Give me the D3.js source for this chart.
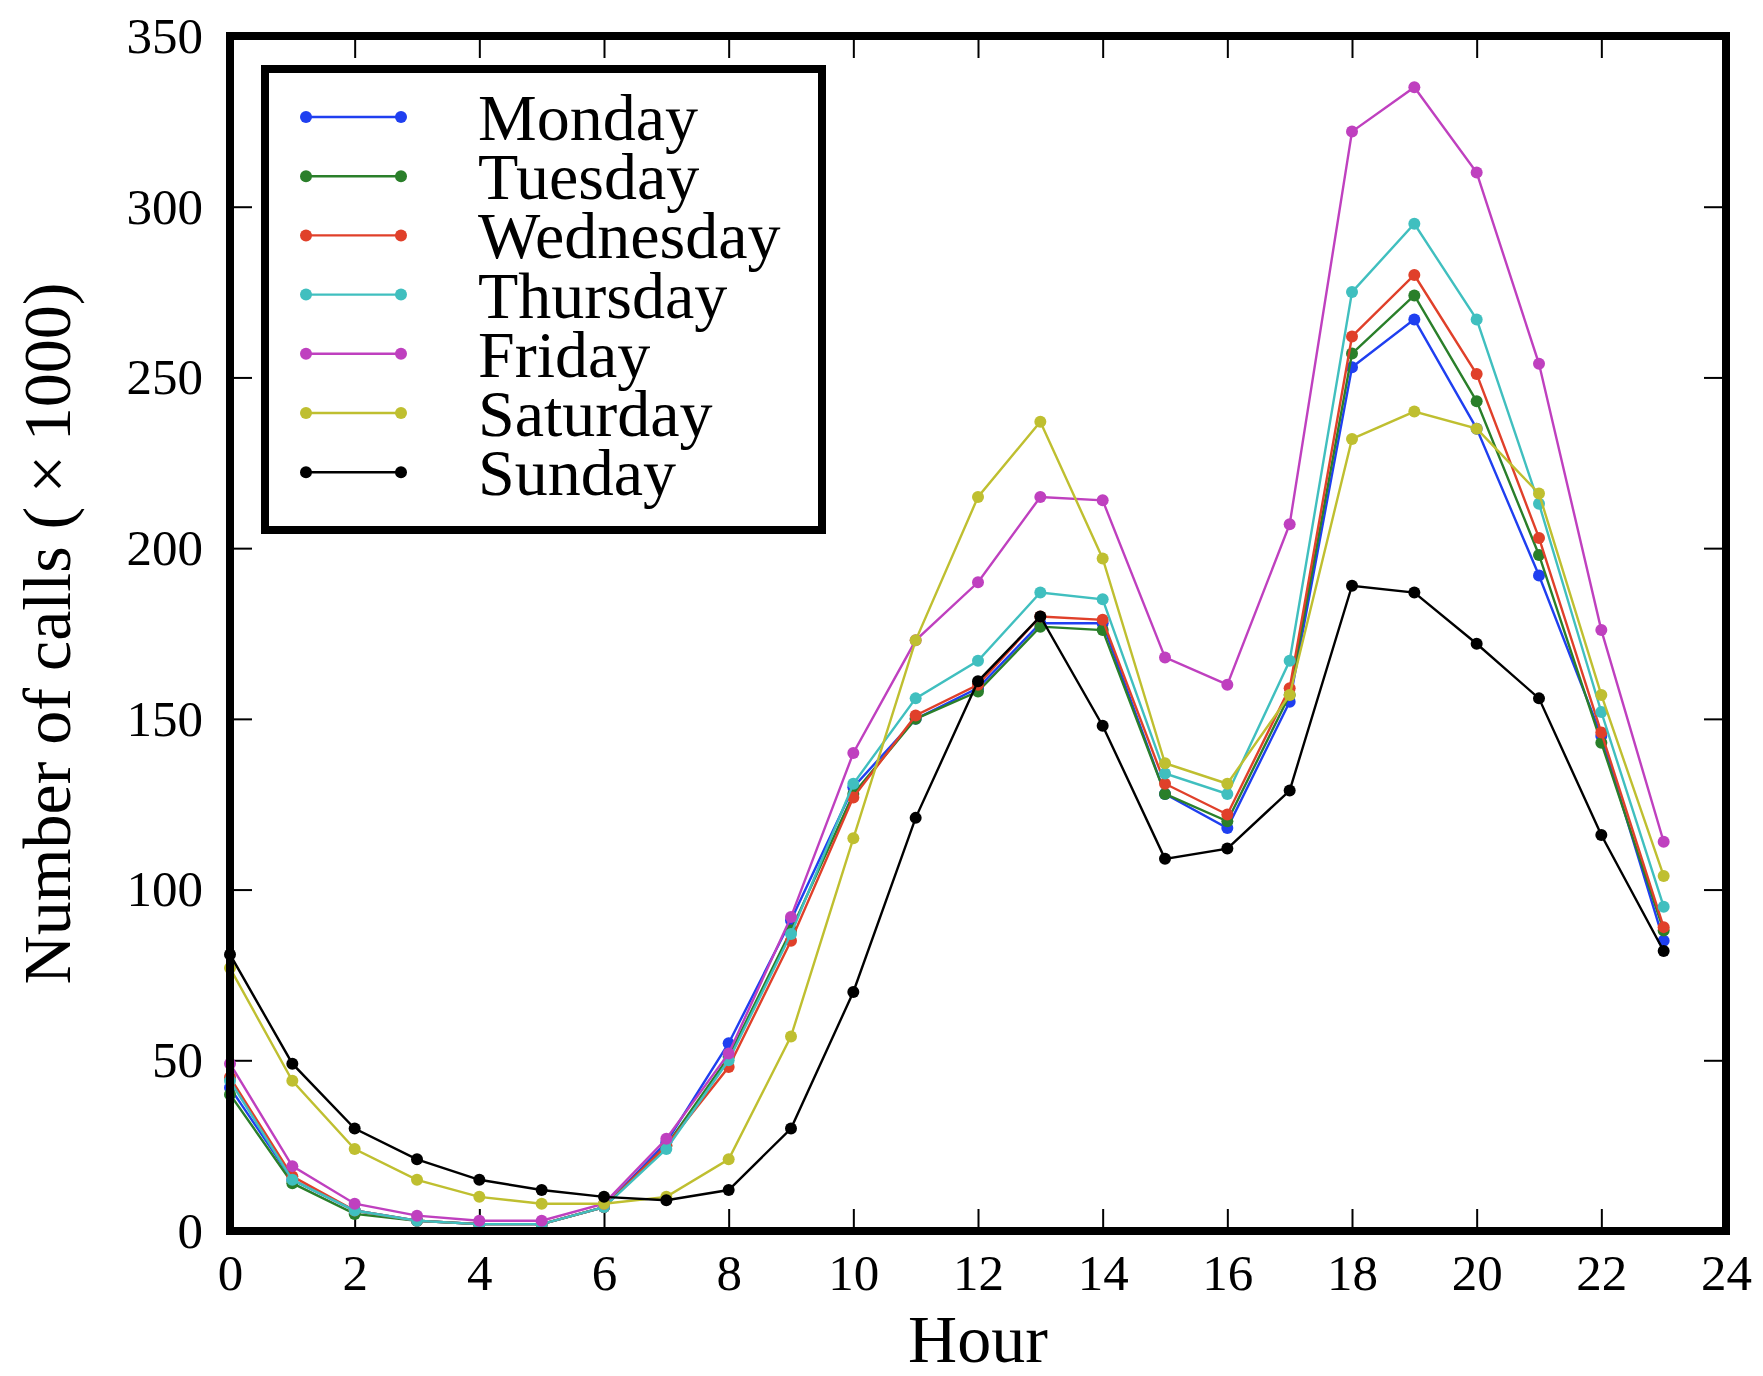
<!DOCTYPE html>
<html>
<head>
<meta charset="utf-8">
<script src="https://cdn.jsdelivr.net/npm/d3@7"></script>
<style>
  body { margin: 0; background: #fff; }
  svg { display: block; font-family: "Liberation Serif", "DejaVu Serif", serif; }
</style>
</head>
<body>
<svg id="chart" width="1763" height="1376"></svg>
<script>

// hours of the day
var hours = d3.range(0, 24);

// calls per hour (x1000)
var monday    = [42, 15, 6, 3, 2, 2, 7, 26, 55, 91, 130, 150, 159, 178, 178, 128, 118, 155, 253, 267, 235, 192, 145, 85];
var tuesday   = [40, 14, 5, 3, 2, 2, 7, 25, 51, 88, 128, 150, 158, 177, 176, 128, 120, 157, 257, 274, 243, 198, 143, 88];
var wednesday = [45, 16, 6, 3, 2, 2, 7, 25, 48, 85, 127, 151, 160, 180, 179, 131, 122, 159, 262, 280, 251, 203, 146, 89];
var thursday  = [44, 15, 6, 3, 2, 2, 7, 24, 50, 87, 131, 156, 167, 187, 185, 134, 128, 167, 275, 295, 267, 213, 152, 95];
var friday    = [49, 19, 8, 4.5, 3, 3, 8, 27, 52, 92, 140, 173, 190, 215, 214, 168, 160, 207, 322, 335, 310, 254, 176, 114];
var saturday  = [77, 44, 24, 15, 10, 8, 8, 10, 21, 57, 115, 173, 215, 237, 197, 137, 131, 157, 232, 240, 235, 216, 157, 104];
var sunday    = [81, 49, 30, 21, 15, 12, 10, 9, 12, 30, 70, 121, 161, 180, 148, 109, 112, 129, 189, 187, 172, 156, 116, 82];

var dayNames  = ["Monday", "Tuesday", "Wednesday", "Thursday", "Friday", "Saturday", "Sunday"];
var dayValues = [monday, tuesday, wednesday, thursday, friday, saturday, sunday];
var dayColors = ["#1f3ff0", "#2a7f2a", "#e0402a", "#40bfbf", "#bf40bf", "#bfbf30", "#000000"];

var xTicks = d3.range(0, 25, 2);
var yTicks = d3.range(0, 351, 50);

var svg = d3.select("#chart");

var plot = { left: 230, right: 1726, top: 36, bottom: 1231 };

var x = d3.scaleLinear().domain([0, 24]).range([plot.left, plot.right]);
var y = d3.scaleLinear().domain([0, 350]).range([plot.bottom, plot.top]);

/* ticks on all four sides, pointing inward */
var tickLen = 22;

var styleAxis = function(g) {
  g.select(".domain").remove();
  g.selectAll(".tick line").attr("stroke", "#000").attr("stroke-width", 2);
  g.selectAll(".tick text").attr("fill", "#000").attr("font-size", 51)
    .attr("font-family", "'Liberation Serif', 'DejaVu Serif', serif");
};

svg.append("g")
   .attr("transform", "translate(0," + plot.bottom + ")")
   .call(d3.axisBottom(x).tickValues(xTicks).tickSize(-tickLen).tickPadding(23))
   .call(styleAxis);

svg.append("g")
   .attr("transform", "translate(0," + plot.top + ")")
   .call(d3.axisTop(x).tickValues(xTicks).tickSize(-tickLen).tickFormat(""))
   .call(styleAxis);

svg.append("g")
   .attr("transform", "translate(" + plot.left + ",0)")
   .call(d3.axisLeft(y).tickValues(yTicks).tickSize(-tickLen).tickPadding(27))
   .call(styleAxis);

svg.append("g")
   .attr("transform", "translate(" + plot.right + ",0)")
   .call(d3.axisRight(y).tickValues(yTicks).tickSize(-tickLen).tickFormat(""))
   .call(styleAxis);

// series
var line = d3.line()
  .x(function(d, i) { return x(hours[i]); })
  .y(function(d) { return y(d); });

var series = svg.append("g").attr("class", "series");

dayValues.forEach(function(values, k) {
  var g = series.append("g");
  g.append("path")
   .attr("d", line(values))
   .attr("fill", "none")
   .attr("stroke", dayColors[k])
   .attr("stroke-width", 2.4);
  g.selectAll("circle").data(values).enter().append("circle")
   .attr("cx", function(d, i) { return x(hours[i]); })
   .attr("cy", function(d) { return y(d); })
   .attr("r", 6)
   .attr("fill", dayColors[k]);
});

// frame on top of the data
svg.append("rect")
   .attr("x", plot.left)
   .attr("y", plot.top)
   .attr("width", plot.right - plot.left)
   .attr("height", plot.bottom - plot.top)
   .attr("fill", "none")
   .attr("stroke", "#000")
   .attr("stroke-width", 8);

// axis titles
svg.append("text")
   .attr("x", (plot.left + plot.right) / 2)
   .attr("y", 1362)
   .attr("text-anchor", "middle")
   .attr("font-size", 68)
   .text("Hour");

svg.append("text")
   .attr("transform", "translate(70," + (plot.top + plot.bottom) / 2 + ") rotate(-90)")
   .attr("text-anchor", "middle")
   .attr("font-size", 68)
   .text("Number of calls (\u2009\u00d7\u20091000)");

/* legend */
var legend = svg.append("g").attr("class", "legend");

legend.append("rect")
   .attr("x", 265)
   .attr("y", 69)
   .attr("width", 557)
   .attr("height", 461)
   .attr("fill", "#fff")
   .attr("stroke", "#000")
   .attr("stroke-width", 8);

var rowY = function(i) { return 117 + i * 59.2; };

dayNames.forEach(function(name, i) {
  var g = legend.append("g").attr("transform", "translate(0," + rowY(i) + ")");
  g.append("line")
   .attr("x1", 306).attr("x2", 401)
   .attr("stroke", dayColors[i])
   .attr("stroke-width", 2.4);
  [306, 401].forEach(function(cx) {
    g.append("circle").attr("cx", cx).attr("cy", 0).attr("r", 6).attr("fill", dayColors[i]);
  });
  g.append("text")
   .attr("x", 478)
   .attr("y", 23)
   .attr("font-size", 66)
   .text(name);
});

</script>
</body>
</html>
